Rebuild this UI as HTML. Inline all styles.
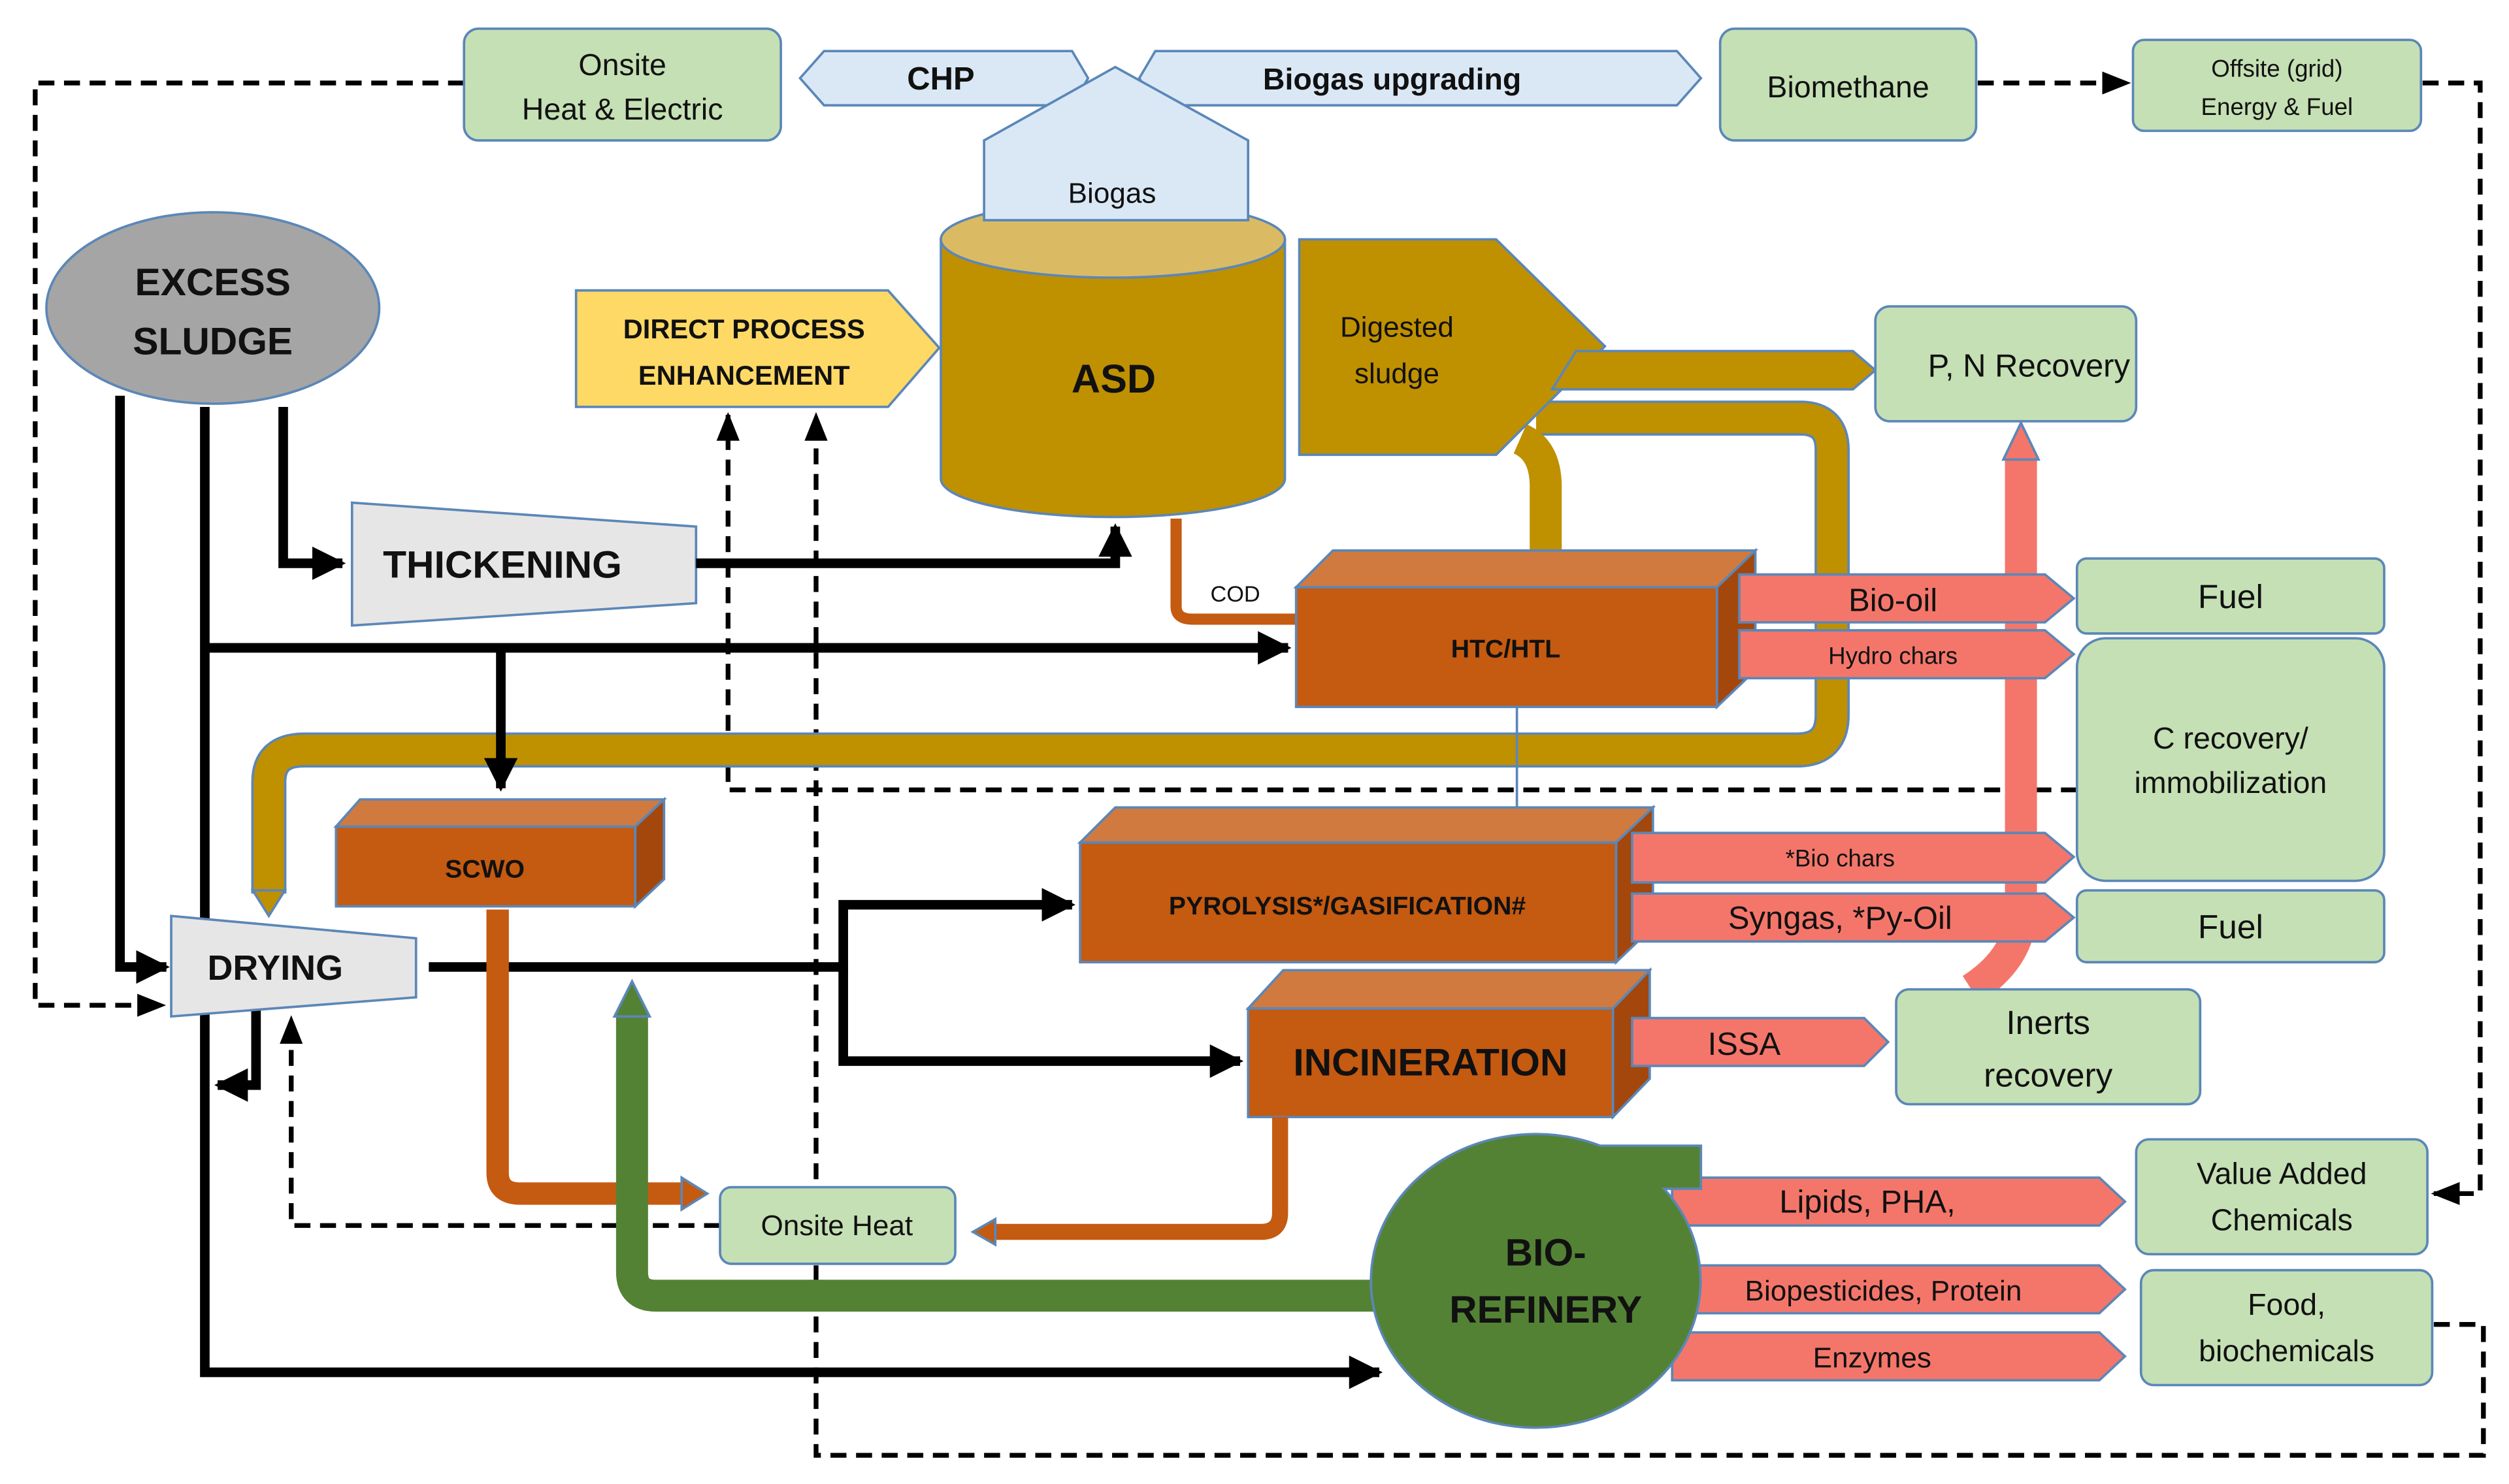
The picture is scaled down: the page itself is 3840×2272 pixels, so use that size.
<!DOCTYPE html>
<html><head><meta charset="utf-8"><style>
html,body{margin:0;padding:0;background:#fff;}
svg{display:block;}
text{font-family:"Liberation Sans",sans-serif;fill:#111;}
</style></head><body>
<svg width="3840" height="2272" viewBox="0 0 1568 930" preserveAspectRatio="none" xmlns="http://www.w3.org/2000/svg">
<defs>
<marker id="ab" viewBox="0 0 10 10" refX="9" refY="5" markerWidth="3.5" markerHeight="3.5" orient="auto"><path d="M0,0L10,5L0,10z" fill="#000"/></marker>
<marker id="ad" viewBox="0 0 10 10" refX="9" refY="5" markerWidth="6" markerHeight="6" orient="auto"><path d="M0,1L10,5L0,9z" fill="#000"/></marker>
</defs>
<g stroke="#5b87b8" stroke-width="1.5">
<g fill="none" stroke="#000" stroke-width="3" stroke-dasharray="10,6">
<path d="M290,52H22V630H102" marker-end="url(#ad)"/>
<path d="M1236,52H1330" marker-end="url(#ad)"/>
<path d="M1514,52H1550V748H1521" marker-end="url(#ad)"/>
<path d="M1521,830H1552V912H510V260" marker-end="url(#ad)"/>
<path d="M1298,495H455V260" marker-end="url(#ad)"/>
<path d="M450,768H182V638" marker-end="url(#ad)"/>
</g>
<rect x="290" y="18" width="198" height="70" rx="9" fill="#c5e0b4"/>
<polygon points="500,49 515,32 670,32 680,49 670,66 515,66" fill="#dae8f6"/>
<polygon points="712,49 722,32 1048,32 1063,49 1048,66 722,66" fill="#dae8f6"/>
<rect x="1075" y="18" width="160" height="70" rx="9" fill="#c5e0b4"/>
<rect x="1333" y="25" width="180" height="57" rx="7" fill="#c5e0b4"/>
<path d="M960,262H1125Q1145,262 1145,282V448Q1145,470 1123,470H190Q168,470 168,490V560" fill="none" stroke="#5b87b8" stroke-width="22"/>
<path d="M960,262H1125Q1145,262 1145,282V448Q1145,470 1123,470H190Q168,470 168,490V560" fill="none" stroke="#bf9000" stroke-width="19"/>
<polygon points="158,558 178,558 168,574" fill="#bf9000"/>
<path d="M950,275Q966,282 966,305V346" fill="none" stroke="#bf9000" stroke-width="20"/>
<ellipse cx="133" cy="193" rx="104" ry="60" fill="#a6a5a5"/>
<polygon points="220,315 435,330 435,378 220,392" fill="#e7e6e6"/>
<polygon points="360,182 555,182 587,218 555,255 360,255" fill="#ffd966"/>
<path d="M588,150V300A107.5,24 0 0 0 803,300V150Z" fill="#bf9000"/>
<ellipse cx="695.5" cy="150" rx="107.5" ry="24" fill="#dabb63"/>
<polygon points="615,138 615,88 697,42 780,88 780,138" fill="#dae8f6"/>
<polygon points="812,150 935,150 1003,217 935,285 812,285" fill="#bf9000"/>
<polygon points="985,220 1158,220 1172,232 1158,244 970,244" fill="#bf9000"/>
<path d="M735,325V380Q735,388 745,388H810" fill="none" stroke="#c55a11" stroke-width="7"/>
<g fill="none" stroke="#000" stroke-width="6">
<path d="M177,255V353H214" marker-end="url(#ab)"/>
<path d="M435,353H697V330" marker-end="url(#ab)"/>
<path d="M128,255V860H862" marker-end="url(#ab)"/>
<path d="M75,248V606H104" marker-end="url(#ab)"/>
<path d="M128,406H805" marker-end="url(#ab)"/>
<path d="M313,406V494" marker-end="url(#ab)"/>
<path d="M268,606H527V567H670" marker-end="url(#ab)"/>
<path d="M527,606V665H775" marker-end="url(#ab)"/>
<path d="M160,632V680H136" marker-end="url(#ab)"/>
</g>
<polygon points="107,574 260,588 260,625 107,637" fill="#e7e6e6"/>
<line x1="948" y1="443" x2="948" y2="506" stroke="#5b87b8"/>
<polygon points="810,368 833,345 1097,345 1073,368" fill="#d07a40"/>
<polygon points="1073,368 1097,345 1097,420 1073,443" fill="#a3470d"/>
<rect x="810" y="368" width="263" height="75" fill="#c55a11"/>
<polygon points="210,518 225,501 415,501 397,518" fill="#d07a40"/>
<polygon points="397,518 415,501 415,551 397,568" fill="#a3470d"/>
<rect x="210" y="518" width="187" height="50" fill="#c55a11"/>
<polygon points="675,528 697,506 1033,506 1010,528" fill="#d07a40"/>
<polygon points="1010,528 1033,506 1033,581 1010,603" fill="#a3470d"/>
<rect x="675" y="528" width="335" height="75" fill="#c55a11"/>
<polygon points="780,632 802,608 1031,608 1008,632" fill="#d07a40"/>
<polygon points="1008,632 1031,608 1031,676 1008,700" fill="#a3470d"/>
<rect x="780" y="632" width="228" height="68" fill="#c55a11"/>
<path d="M311,570V735Q311,748 325,748H428" fill="none" stroke="#c55a11" stroke-width="14"/>
<polygon points="426,738 442,748 426,758" fill="#c55a11"/>
<path d="M800,700V760Q800,772 788,772H620" fill="none" stroke="#c55a11" stroke-width="10"/>
<polygon points="622,764 608,772 622,780" fill="#c55a11"/>
<path d="M862,812H410Q395,812 395,797V635" fill="none" stroke="#548235" stroke-width="20"/>
<polygon points="384,637 395,615 406,637" fill="#548235"/>
<path d="M1232,620Q1263,600 1263,570V285" fill="none" stroke="#f4766a" stroke-width="20"/>
<polygon points="1252,288 1263,265 1274,288" fill="#f4766a"/>
<g fill="#f4766a">
<polygon points="1087,360 1278,360 1296,375 1278,390 1087,390"/>
<polygon points="1087,395 1278,395 1296,410 1278,425 1087,425"/>
<polygon points="1020,522 1278,522 1296,537 1278,553 1020,553"/>
<polygon points="1020,560 1278,560 1296,575 1278,590 1020,590"/>
<polygon points="1020,638 1165,638 1180,653 1165,668 1020,668"/>
<polygon points="1045,738 1312,738 1328,753 1312,768 1045,768"/>
<polygon points="1045,793 1312,793 1328,808 1312,823 1045,823"/>
<polygon points="1045,835 1312,835 1328,850 1312,865 1045,865"/>
</g>
<path d="M1000,718H1063V745H1040A103,92 0 1 1 1000,718Z" fill="#548235"/>
<g fill="#c5e0b4">
<rect x="1172" y="192" width="163" height="72" rx="9"/>
<rect x="1298" y="350" width="192" height="47" rx="6"/>
<rect x="1298" y="400" width="192" height="152" rx="18"/>
<rect x="1298" y="558" width="192" height="45" rx="6"/>
<rect x="1185" y="620" width="190" height="72" rx="8"/>
<rect x="1335" y="714" width="182" height="72" rx="8"/>
<rect x="1338" y="796" width="182" height="72" rx="8"/>
<rect x="450" y="744" width="147" height="48" rx="7"/>
</g>
</g>
<g text-anchor="middle" font-size="19">
<text x="389" y="47">Onsite</text><text x="389" y="75">Heat &amp; Electric</text>
<text x="588" y="56" font-weight="bold" font-size="20">CHP</text>
<text x="870" y="56" font-weight="bold" font-size="19">Biogas upgrading</text>
<text x="695" y="127" font-size="18">Biogas</text>
<text x="1155" y="61">Biomethane</text>
<text x="1423" y="48" font-size="15">Offsite (grid)</text><text x="1423" y="72" font-size="15">Energy &amp; Fuel</text>
<text x="133" y="185" font-weight="bold" font-size="24">EXCESS</text><text x="133" y="222" font-weight="bold" font-size="24">SLUDGE</text>
<text x="314" y="362" font-weight="bold" font-size="24">THICKENING</text>
<text x="172" y="614" font-weight="bold" font-size="22">DRYING</text>
<text x="465" y="212" font-weight="bold" font-size="17">DIRECT PROCESS</text><text x="465" y="241" font-weight="bold" font-size="17">ENHANCEMENT</text>
<text x="696" y="246" font-weight="bold" font-size="25">ASD</text>
<text x="873" y="211" font-size="18">Digested</text><text x="873" y="240" font-size="18">sludge</text>
<text x="1268" y="236" font-size="20">P, N Recovery</text>
<text x="772" y="377" font-size="14">COD</text>
<text x="941" y="412" font-weight="bold" font-size="16">HTC/HTL</text>
<text x="1183" y="383" font-size="20">Bio-oil</text>
<text x="1183" y="416" font-size="15">Hydro chars</text>
<text x="1394" y="381" font-size="21">Fuel</text>
<text x="1394" y="469" font-size="19">C recovery/</text><text x="1394" y="497" font-size="19">immobilization</text>
<text x="1150" y="543" font-size="15">*Bio chars</text>
<text x="1150" y="582" font-size="20">Syngas, *Py-Oil</text>
<text x="1394" y="588" font-size="21">Fuel</text>
<text x="303" y="550" font-weight="bold" font-size="16">SCWO</text>
<text x="842" y="573" font-weight="bold" font-size="16">PYROLYSIS*/GASIFICATION#</text>
<text x="894" y="674" font-weight="bold" font-size="24">INCINERATION</text>
<text x="1090" y="661" font-size="20">ISSA</text>
<text x="1280" y="648" font-size="21">Inerts</text><text x="1280" y="681" font-size="21">recovery</text>
<text x="523" y="774" font-size="18">Onsite Heat</text>
<text x="966" y="793" font-weight="bold" font-size="24">BIO-</text><text x="966" y="829" font-weight="bold" font-size="24">REFINERY</text>
<text x="1167" y="760" font-size="20">Lipids, PHA,</text>
<text x="1177" y="815" font-size="18">Biopesticides, Protein</text>
<text x="1170" y="857" font-size="18">Enzymes</text>
<text x="1426" y="742" font-size="19">Value Added</text><text x="1426" y="771" font-size="19">Chemicals</text>
<text x="1429" y="824" font-size="19">Food,</text><text x="1429" y="853" font-size="19">biochemicals</text>
</g>
</svg>
</body></html>
